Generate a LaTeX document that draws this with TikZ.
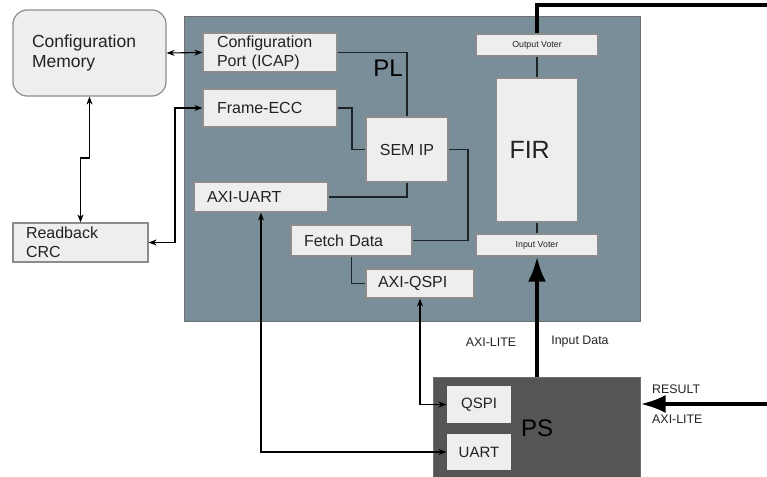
\documentclass[tikz,border=0pt]{standalone}
\usepackage{fontspec}
\setmainfont{Liberation Sans}
\usepackage{xcolor}
\usetikzlibrary{arrows.meta,positioning,backgrounds}
\definecolor{zqslate}{HTML}{798E99}
\definecolor{zqdark}{HTML}{555555}
\definecolor{zqpale}{HTML}{EEEEEE}
\definecolor{zqedge}{HTML}{8C8C8C}
\definecolor{zqink}{HTML}{222222}
\definecolor{zqwire}{HTML}{1C2428}
\tikzset{
  zqblock/.style={
    draw=zqedge,
    fill=zqpale,
    line width=1.2pt,
    text=zqink,
    inner ysep=0pt,
    font=\fontsize{16}{19}\selectfont
  },
  zqleft/.style={zqblock,align=left,inner xsep=13pt},
  zqmid/.style={zqblock,align=center,inner xsep=0pt},
  zqvoter/.style={zqmid,minimum width=122pt,minimum height=22pt,
                  font=\fontsize{8.8}{10}\selectfont},
  zqinner/.style={zqmid,draw=none,minimum width=64pt,font=\fontsize{15}{18}\selectfont},
  zqregion/.style={draw=zqedge!80!black,line width=1pt,inner sep=0pt},
  zqtag/.style={text=black,inner sep=0pt,font=\fontsize{24}{28}\selectfont},
  zqnote/.style={text=zqink,inner sep=0pt,font=\fontsize{12.4}{15}\selectfont},
  zqlink/.style={line width=1.3pt,draw=zqwire},
  zqarrow/.style={line width=1.1pt,draw=black,
                  {Stealth[length=8pt,width=6pt]}-{Stealth[length=8pt,width=6pt]}},
  zqbus/.style={line width=4pt,draw=black},
  zqbusarrow/.style={zqbus,-{Latex[length=25pt,width=18pt]}}
}
\begin{document}
\begin{tikzpicture}[x=1pt,y=-1pt]
  \useasboundingbox (0,0) rectangle (767,476);

  % regions
  \node[zqregion,fill=zqslate,minimum width=456pt,minimum height=304pt] (pl) at (412,169) {};
  \node[zqregion,fill=zqdark,minimum width=207pt,minimum height=105pt] (ps) at (536.5,429.5) {};
  \node[zqtag] (plname) at (388,68) {PL};
  \node[zqtag] (psname) at (537,428) {PS};

  % outside the fabric
  \node[zqleft,rounded corners=14pt,inner xsep=19pt,text width=115pt,minimum height=86pt,
        font=\fontsize{17.5}{20.5}\selectfont] (cfgmem) at (89.5,53) {Configuration\\Memory};
  \node[zqleft,text width=109pt,minimum height=39pt,inner xsep=13pt] (readback) at (80.5,242.5) {Readback\\CRC};

  % PL blocks
  \node[zqleft,text width=106pt,inner xsep=14pt,minimum height=39pt] (icap) at (270,52.5) {Configuration\\Port (ICAP)};
  \node[zqleft,text width=106pt,inner xsep=14pt,minimum height=38pt] (frameecc) at (270,108) {Frame-ECC};
  \node[zqmid,minimum width=82pt,minimum height=65pt] (semip) at (407,149.5) {SEM IP};
  \node[zqleft,text width=108pt,minimum height=30pt] (axiuart) at (261,197) {AXI-UART};
  \node[zqleft,text width=95pt,minimum height=31pt] (fetch) at (351.5,240.5) {Fetch Data};
  \node[zqleft,text width=84pt,inner xsep=12pt,minimum height=29pt] (axiqspi) at (420,283.5) {AXI-QSPI};
  \node[zqleft,text width=55pt,minimum height=144pt,font=\fontsize{25}{30}\selectfont] (fir) at (537,150) {FIR};
  \node[zqvoter] (outvoter) at (537,45) {Output Voter};
  \node[zqvoter] (invoter) at (537,245) {Input Voter};

  % PS blocks
  \node[zqinner,minimum height=37pt] (qspi) at (479,404.5) {QSPI};
  \node[zqinner,minimum height=36pt] (uart) at (479,452) {UART};

  % bus labels
  \node[zqnote] (litein) at (491,342) {AXI-LITE};
  \node[zqnote] (datain) at (580,342) {Input Data};
  \node[zqnote,anchor=west] (resname) at (652,389) {RESULT};
  \node[zqnote,anchor=west] (litename) at (652,419) {AXI-LITE};

  \coordinate (cfgjog) at (0,158);
  \coordinate (eccbus) at (175,175);
  \coordinate (eccjog) at (352,130);
  \coordinate (semjog) at (468,200);
  \coordinate (resultout) at (772,5);
  \coordinate (resultin) at (772,404);

  % internal wiring
  \draw[zqlink] (icap.east) -| (semip.north);
  \draw[zqlink] (frameecc.east) -| (eccjog) |- (semip.west);
  \draw[zqlink] (semip.east) -| (semjog) |- (fetch.east);
  \draw[zqlink] (semip.south) |- (axiuart.east);
  \draw[zqlink] (fetch.south) |- (axiqspi.west);
  \draw[zqlink,line width=1.7pt] (outvoter.south) -- (fir.north);
  \draw[zqlink,line width=1.7pt] (fir.south) -- (invoter.north);

  % arrows
  \draw[zqarrow] (cfgmem.east) -- (icap.west);
  \draw[zqarrow] (cfgmem.south) -- (cfgmem.south |- cfgjog) -| (readback.north);
  \draw[zqarrow] (frameecc.west) -| (eccbus) |- (readback.east);
  \draw[zqarrow] (axiqspi.south) |- (qspi.west);
  \draw[zqarrow] (axiuart.south) |- (uart.west);

  % data path
  \draw[zqbus] (outvoter.north) |- (resultout);
  \draw[zqbusarrow] (ps.north -| invoter.south) -- (invoter.south);
  \draw[zqbusarrow] (resultin) -- (resultin -| ps.east);
\end{tikzpicture}
\end{document}
